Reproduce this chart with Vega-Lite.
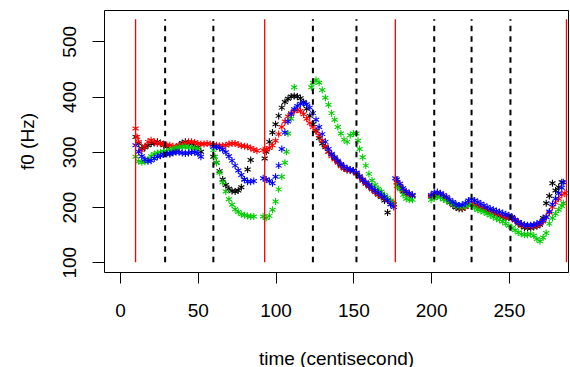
{
  "$schema": "https://vega.github.io/schema/vega-lite/v6.json",
  "width": 464,
  "height": 262,
  "autosize": {"type": "none"},
  "padding": {"left": 104, "top": 10, "right": 2, "bottom": 95},
  "background": "white",
  "config": {
    "view": {"stroke": "black", "strokeWidth": 1},
    "font": "Liberation Sans",
    "axis": {"grid": false, "domain": false, "tickColor": "black", "tickWidth": 1, "labelColor": "black", "titleColor": "black", "labelFont": "Liberation Sans", "titleFont": "Liberation Sans", "labelFontSize": 19, "titleFontSize": 19, "titleFontWeight": "normal"}
  },
  "datasets": {
    "f0": [
      {"t":10,"f":327,"s":"k"},{"t":12,"f":315,"s":"k"},{"t":14,"f":306,"s":"k"},{"t":16,"f":308,"s":"k"},{"t":18,"f":312,"s":"k"},{"t":20,"f":315,"s":"k"},{"t":22,"f":316,"s":"k"},{"t":24,"f":318,"s":"k"},{"t":26,"f":316,"s":"k"},{"t":28,"f":312,"s":"k"},{"t":30,"f":309,"s":"k"},{"t":32,"f":296,"s":"k"},{"t":34,"f":300,"s":"k"},{"t":36,"f":305,"s":"k"},{"t":38,"f":312,"s":"k"},{"t":40,"f":316,"s":"k"},{"t":42,"f":318,"s":"k"},{"t":44,"f":316,"s":"k"},{"t":46,"f":314,"s":"k"},{"t":48,"f":312,"s":"k"},{"t":50,"f":308,"s":"k"},{"t":52,"f":300,"s":"k"},
      {"t":60,"f":291,"s":"k"},{"t":62,"f":280,"s":"k"},{"t":64,"f":265,"s":"k"},{"t":66,"f":250,"s":"k"},{"t":68,"f":240,"s":"k"},{"t":70,"f":233,"s":"k"},{"t":72,"f":229,"s":"k"},{"t":74,"f":228,"s":"k"},{"t":76,"f":230,"s":"k"},{"t":78,"f":236,"s":"k"},{"t":80,"f":250,"s":"k"},{"t":82,"f":268,"s":"k"},{"t":84,"f":285,"s":"k"},
      {"t":93,"f":288,"s":"k"},{"t":94,"f":300,"s":"k"},{"t":96,"f":318,"s":"k"},{"t":98,"f":335,"s":"k"},{"t":100,"f":350,"s":"k"},{"t":102,"f":365,"s":"k"},{"t":104,"f":380,"s":"k"},{"t":106,"f":390,"s":"k"},{"t":108,"f":396,"s":"k"},{"t":110,"f":400,"s":"k"},{"t":112,"f":401,"s":"k"},{"t":114,"f":400,"s":"k"},{"t":116,"f":397,"s":"k"},{"t":118,"f":390,"s":"k"},{"t":120,"f":378,"s":"k"},{"t":122,"f":365,"s":"k"},{"t":124,"f":350,"s":"k"},{"t":126,"f":338,"s":"k"},{"t":128,"f":325,"s":"k"},{"t":130,"f":315,"s":"k"},{"t":132,"f":308,"s":"k"},{"t":134,"f":300,"s":"k"},{"t":136,"f":295,"s":"k"},{"t":138,"f":288,"s":"k"},{"t":140,"f":282,"s":"k"},{"t":142,"f":276,"s":"k"},{"t":144,"f":270,"s":"k"},{"t":146,"f":267,"s":"k"},{"t":148,"f":266,"s":"k"},{"t":150,"f":266,"s":"k"},{"t":152,"f":262,"s":"k"},{"t":154,"f":255,"s":"k"},{"t":156,"f":248,"s":"k"},{"t":158,"f":242,"s":"k"},{"t":160,"f":237,"s":"k"},{"t":162,"f":232,"s":"k"},{"t":164,"f":227,"s":"k"},{"t":166,"f":222,"s":"k"},{"t":168,"f":218,"s":"k"},{"t":170,"f":212,"s":"k"},{"t":172,"f":190,"s":"k"},{"t":174,"f":205,"s":"k"},{"t":176,"f":205,"s":"k"},
      {"t":178,"f":245,"s":"k"},{"t":180,"f":235,"s":"k"},{"t":182,"f":228,"s":"k"},{"t":184,"f":224,"s":"k"},{"t":186,"f":222,"s":"k"},{"t":188,"f":220,"s":"k"},
      {"t":200,"f":218,"s":"k"},{"t":202,"f":220,"s":"k"},{"t":204,"f":222,"s":"k"},{"t":206,"f":222,"s":"k"},{"t":208,"f":218,"s":"k"},{"t":210,"f":214,"s":"k"},{"t":212,"f":208,"s":"k"},{"t":214,"f":203,"s":"k"},{"t":216,"f":199,"s":"k"},{"t":218,"f":197,"s":"k"},{"t":220,"f":197,"s":"k"},{"t":222,"f":200,"s":"k"},{"t":224,"f":204,"s":"k"},{"t":226,"f":205,"s":"k"},{"t":228,"f":203,"s":"k"},{"t":230,"f":200,"s":"k"},{"t":232,"f":198,"s":"k"},{"t":234,"f":196,"s":"k"},{"t":236,"f":193,"s":"k"},{"t":238,"f":190,"s":"k"},{"t":240,"f":188,"s":"k"},{"t":242,"f":186,"s":"k"},{"t":244,"f":184,"s":"k"},{"t":246,"f":182,"s":"k"},{"t":248,"f":180,"s":"k"},{"t":250,"f":181,"s":"k"},{"t":252,"f":182,"s":"k"},{"t":254,"f":176,"s":"k"},{"t":256,"f":170,"s":"k"},{"t":258,"f":166,"s":"k"},{"t":260,"f":163,"s":"k"},{"t":262,"f":162,"s":"k"},{"t":264,"f":162,"s":"k"},{"t":266,"f":164,"s":"k"},{"t":268,"f":165,"s":"k"},{"t":270,"f":168,"s":"k"},{"t":272,"f":180,"s":"k"},{"t":274,"f":207,"s":"k"},{"t":276,"f":220,"s":"k"},{"t":278,"f":243,"s":"k"},{"t":280,"f":230,"s":"k"},{"t":282,"f":236,"s":"k"},{"t":284,"f":245,"s":"k"},

      {"t":10,"f":342,"s":"r"},{"t":11,"f":327,"s":"r"},{"t":12,"f":318,"s":"r"},{"t":14,"f":303,"s":"r"},{"t":16,"f":310,"s":"r"},{"t":18,"f":318,"s":"r"},{"t":20,"f":321,"s":"r"},{"t":22,"f":318,"s":"r"},{"t":24,"f":315,"s":"r"},{"t":26,"f":315,"s":"r"},{"t":28,"f":314,"s":"r"},{"t":30,"f":312,"s":"r"},{"t":32,"f":312,"s":"r"},{"t":34,"f":310,"s":"r"},{"t":36,"f":309,"s":"r"},{"t":38,"f":311,"s":"r"},{"t":40,"f":313,"s":"r"},{"t":42,"f":316,"s":"r"},{"t":44,"f":318,"s":"r"},{"t":46,"f":318,"s":"r"},{"t":48,"f":317,"s":"r"},{"t":50,"f":315,"s":"r"},{"t":52,"f":314,"s":"r"},{"t":54,"f":314,"s":"r"},{"t":56,"f":315,"s":"r"},{"t":58,"f":314,"s":"r"},{"t":60,"f":313,"s":"r"},{"t":62,"f":312,"s":"r"},{"t":64,"f":311,"s":"r"},{"t":66,"f":311,"s":"r"},{"t":68,"f":312,"s":"r"},{"t":70,"f":314,"s":"r"},{"t":72,"f":315,"s":"r"},{"t":74,"f":315,"s":"r"},{"t":76,"f":313,"s":"r"},{"t":78,"f":311,"s":"r"},{"t":80,"f":310,"s":"r"},{"t":82,"f":309,"s":"r"},{"t":84,"f":307,"s":"r"},{"t":86,"f":304,"s":"r"},{"t":88,"f":302,"s":"r"},
      {"t":92,"f":303,"s":"r"},{"t":94,"f":304,"s":"r"},{"t":96,"f":307,"s":"r"},{"t":98,"f":312,"s":"r"},{"t":100,"f":320,"s":"r"},{"t":102,"f":332,"s":"r"},{"t":104,"f":345,"s":"r"},{"t":106,"f":355,"s":"r"},{"t":108,"f":364,"s":"r"},{"t":110,"f":370,"s":"r"},{"t":112,"f":374,"s":"r"},{"t":114,"f":376,"s":"r"},{"t":116,"f":374,"s":"r"},{"t":118,"f":368,"s":"r"},{"t":120,"f":360,"s":"r"},{"t":122,"f":352,"s":"r"},{"t":124,"f":345,"s":"r"},{"t":126,"f":337,"s":"r"},{"t":128,"f":330,"s":"r"},{"t":130,"f":320,"s":"r"},{"t":132,"f":310,"s":"r"},{"t":134,"f":300,"s":"r"},{"t":136,"f":292,"s":"r"},{"t":138,"f":286,"s":"r"},{"t":140,"f":280,"s":"r"},{"t":142,"f":274,"s":"r"},{"t":144,"f":270,"s":"r"},{"t":146,"f":268,"s":"r"},{"t":148,"f":267,"s":"r"},{"t":150,"f":265,"s":"r"},{"t":152,"f":260,"s":"r"},{"t":154,"f":254,"s":"r"},{"t":156,"f":248,"s":"r"},{"t":158,"f":243,"s":"r"},{"t":160,"f":238,"s":"r"},{"t":162,"f":232,"s":"r"},{"t":164,"f":227,"s":"r"},{"t":166,"f":223,"s":"r"},{"t":168,"f":220,"s":"r"},{"t":170,"f":217,"s":"r"},{"t":172,"f":213,"s":"r"},{"t":174,"f":210,"s":"r"},{"t":176,"f":205,"s":"r"},
      {"t":178,"f":245,"s":"r"},{"t":180,"f":238,"s":"r"},{"t":182,"f":230,"s":"r"},{"t":184,"f":225,"s":"r"},{"t":186,"f":222,"s":"r"},{"t":188,"f":222,"s":"r"},
      {"t":200,"f":220,"s":"r"},{"t":202,"f":223,"s":"r"},{"t":204,"f":225,"s":"r"},{"t":206,"f":223,"s":"r"},{"t":208,"f":219,"s":"r"},{"t":210,"f":215,"s":"r"},{"t":212,"f":210,"s":"r"},{"t":214,"f":206,"s":"r"},{"t":216,"f":203,"s":"r"},{"t":218,"f":200,"s":"r"},{"t":220,"f":198,"s":"r"},{"t":222,"f":200,"s":"r"},{"t":224,"f":204,"s":"r"},{"t":226,"f":206,"s":"r"},{"t":228,"f":205,"s":"r"},{"t":230,"f":203,"s":"r"},{"t":232,"f":200,"s":"r"},{"t":234,"f":197,"s":"r"},{"t":236,"f":194,"s":"r"},{"t":238,"f":192,"s":"r"},{"t":240,"f":190,"s":"r"},{"t":242,"f":188,"s":"r"},{"t":244,"f":186,"s":"r"},{"t":246,"f":184,"s":"r"},{"t":248,"f":182,"s":"r"},{"t":250,"f":182,"s":"r"},{"t":252,"f":180,"s":"r"},{"t":254,"f":176,"s":"r"},{"t":256,"f":172,"s":"r"},{"t":258,"f":168,"s":"r"},{"t":260,"f":166,"s":"r"},{"t":262,"f":165,"s":"r"},{"t":264,"f":165,"s":"r"},{"t":266,"f":166,"s":"r"},{"t":268,"f":167,"s":"r"},{"t":270,"f":170,"s":"r"},{"t":272,"f":174,"s":"r"},{"t":274,"f":182,"s":"r"},{"t":276,"f":190,"s":"r"},{"t":278,"f":200,"s":"r"},{"t":280,"f":208,"s":"r"},{"t":282,"f":215,"s":"r"},{"t":284,"f":222,"s":"r"},{"t":286,"f":225,"s":"r"},

      {"t":10,"f":291,"s":"g"},{"t":12,"f":283,"s":"g"},{"t":14,"f":281,"s":"g"},{"t":16,"f":282,"s":"g"},{"t":18,"f":286,"s":"g"},{"t":20,"f":292,"s":"g"},{"t":22,"f":296,"s":"g"},{"t":24,"f":298,"s":"g"},{"t":26,"f":299,"s":"g"},{"t":28,"f":300,"s":"g"},{"t":30,"f":301,"s":"g"},{"t":32,"f":303,"s":"g"},{"t":34,"f":305,"s":"g"},{"t":36,"f":307,"s":"g"},{"t":38,"f":308,"s":"g"},{"t":40,"f":309,"s":"g"},{"t":42,"f":309,"s":"g"},{"t":44,"f":308,"s":"g"},{"t":46,"f":307,"s":"g"},{"t":48,"f":306,"s":"g"},{"t":50,"f":305,"s":"g"},
      {"t":60,"f":303,"s":"g"},{"t":61,"f":291,"s":"g"},{"t":62,"f":280,"s":"g"},{"t":64,"f":262,"s":"g"},{"t":66,"f":245,"s":"g"},{"t":68,"f":228,"s":"g"},{"t":70,"f":214,"s":"g"},{"t":72,"f":204,"s":"g"},{"t":74,"f":196,"s":"g"},{"t":76,"f":191,"s":"g"},{"t":78,"f":187,"s":"g"},{"t":80,"f":185,"s":"g"},{"t":82,"f":184,"s":"g"},{"t":84,"f":183,"s":"g"},{"t":86,"f":183,"s":"g"},
      {"t":92,"f":183,"s":"g"},{"t":94,"f":180,"s":"g"},{"t":96,"f":184,"s":"g"},{"t":98,"f":195,"s":"g"},{"t":100,"f":210,"s":"g"},{"t":102,"f":232,"s":"g"},{"t":104,"f":255,"s":"g"},{"t":106,"f":280,"s":"g"},{"t":107,"f":300,"s":"g"},{"t":108,"f":333,"s":"g"},{"t":110,"f":360,"s":"g"},{"t":112,"f":417,"s":"g"},
      {"t":123,"f":417,"s":"g"},{"t":124,"f":425,"s":"g"},{"t":126,"f":430,"s":"g"},{"t":128,"f":425,"s":"g"},{"t":130,"f":412,"s":"g"},{"t":132,"f":398,"s":"g"},{"t":134,"f":385,"s":"g"},{"t":136,"f":370,"s":"g"},{"t":138,"f":358,"s":"g"},{"t":140,"f":345,"s":"g"},{"t":142,"f":333,"s":"g"},{"t":144,"f":322,"s":"g"},{"t":146,"f":318,"s":"g"},{"t":148,"f":330,"s":"g"},{"t":150,"f":333,"s":"g"},{"t":152,"f":333,"s":"g"},{"t":153,"f":320,"s":"g"},{"t":154,"f":305,"s":"g"},{"t":156,"f":290,"s":"g"},{"t":158,"f":275,"s":"g"},{"t":160,"f":260,"s":"g"},{"t":162,"f":248,"s":"g"},{"t":164,"f":240,"s":"g"},{"t":166,"f":233,"s":"g"},{"t":168,"f":228,"s":"g"},{"t":170,"f":222,"s":"g"},{"t":172,"f":217,"s":"g"},{"t":174,"f":212,"s":"g"},{"t":176,"f":205,"s":"g"},
      {"t":178,"f":238,"s":"g"},{"t":180,"f":232,"s":"g"},{"t":182,"f":222,"s":"g"},{"t":184,"f":215,"s":"g"},{"t":186,"f":213,"s":"g"},{"t":188,"f":213,"s":"g"},
      {"t":200,"f":213,"s":"g"},{"t":202,"f":216,"s":"g"},{"t":204,"f":219,"s":"g"},{"t":206,"f":217,"s":"g"},{"t":208,"f":214,"s":"g"},{"t":210,"f":211,"s":"g"},{"t":212,"f":209,"s":"g"},{"t":214,"f":206,"s":"g"},{"t":216,"f":203,"s":"g"},{"t":218,"f":201,"s":"g"},{"t":220,"f":200,"s":"g"},{"t":222,"f":202,"s":"g"},{"t":224,"f":204,"s":"g"},{"t":226,"f":203,"s":"g"},{"t":228,"f":198,"s":"g"},{"t":230,"f":195,"s":"g"},{"t":232,"f":193,"s":"g"},{"t":234,"f":191,"s":"g"},{"t":236,"f":188,"s":"g"},{"t":238,"f":185,"s":"g"},{"t":240,"f":182,"s":"g"},{"t":242,"f":179,"s":"g"},{"t":244,"f":177,"s":"g"},{"t":246,"f":174,"s":"g"},{"t":248,"f":170,"s":"g"},{"t":250,"f":166,"s":"g"},{"t":252,"f":162,"s":"g"},{"t":254,"f":158,"s":"g"},{"t":256,"f":154,"s":"g"},{"t":258,"f":151,"s":"g"},{"t":260,"f":150,"s":"g"},{"t":262,"f":150,"s":"g"},{"t":264,"f":151,"s":"g"},{"t":266,"f":148,"s":"g"},{"t":268,"f":142,"s":"g"},{"t":270,"f":138,"s":"g"},{"t":272,"f":145,"s":"g"},{"t":274,"f":153,"s":"g"},{"t":276,"f":170,"s":"g"},{"t":278,"f":180,"s":"g"},{"t":280,"f":188,"s":"g"},{"t":282,"f":195,"s":"g"},{"t":284,"f":202,"s":"g"},{"t":285,"f":207,"s":"g"},

      {"t":10,"f":312,"s":"b"},{"t":12,"f":300,"s":"b"},{"t":14,"f":292,"s":"b"},{"t":16,"f":286,"s":"b"},{"t":18,"f":283,"s":"b"},{"t":20,"f":284,"s":"b"},{"t":22,"f":288,"s":"b"},{"t":24,"f":291,"s":"b"},{"t":26,"f":293,"s":"b"},{"t":28,"f":295,"s":"b"},{"t":30,"f":296,"s":"b"},{"t":32,"f":297,"s":"b"},{"t":34,"f":298,"s":"b"},{"t":36,"f":299,"s":"b"},{"t":38,"f":299,"s":"b"},{"t":40,"f":298,"s":"b"},{"t":42,"f":297,"s":"b"},{"t":44,"f":298,"s":"b"},{"t":46,"f":299,"s":"b"},{"t":48,"f":299,"s":"b"},{"t":50,"f":297,"s":"b"},{"t":52,"f":291,"s":"b"},
      {"t":60,"f":309,"s":"b"},{"t":62,"f":309,"s":"b"},{"t":64,"f":307,"s":"b"},{"t":66,"f":304,"s":"b"},{"t":68,"f":299,"s":"b"},{"t":70,"f":292,"s":"b"},{"t":72,"f":284,"s":"b"},{"t":74,"f":275,"s":"b"},{"t":76,"f":266,"s":"b"},{"t":78,"f":258,"s":"b"},{"t":80,"f":250,"s":"b"},{"t":82,"f":246,"s":"b"},{"t":84,"f":246,"s":"b"},{"t":86,"f":247,"s":"b"},
      {"t":92,"f":252,"s":"b"},{"t":94,"f":250,"s":"b"},{"t":96,"f":247,"s":"b"},{"t":98,"f":243,"s":"b"},{"t":100,"f":255,"s":"b"},{"t":102,"f":275,"s":"b"},{"t":104,"f":305,"s":"b"},{"t":106,"f":335,"s":"b"},{"t":108,"f":355,"s":"b"},{"t":110,"f":368,"s":"b"},{"t":112,"f":377,"s":"b"},{"t":114,"f":383,"s":"b"},{"t":116,"f":387,"s":"b"},{"t":118,"f":388,"s":"b"},{"t":120,"f":386,"s":"b"},{"t":122,"f":380,"s":"b"},{"t":124,"f":370,"s":"b"},{"t":126,"f":358,"s":"b"},{"t":128,"f":345,"s":"b"},{"t":130,"f":332,"s":"b"},{"t":132,"f":318,"s":"b"},{"t":134,"f":305,"s":"b"},{"t":136,"f":296,"s":"b"},{"t":138,"f":290,"s":"b"},{"t":140,"f":284,"s":"b"},{"t":142,"f":278,"s":"b"},{"t":144,"f":273,"s":"b"},{"t":146,"f":270,"s":"b"},{"t":148,"f":268,"s":"b"},{"t":150,"f":266,"s":"b"},{"t":152,"f":262,"s":"b"},{"t":154,"f":256,"s":"b"},{"t":156,"f":250,"s":"b"},{"t":158,"f":245,"s":"b"},{"t":160,"f":240,"s":"b"},{"t":162,"f":235,"s":"b"},{"t":164,"f":230,"s":"b"},{"t":166,"f":226,"s":"b"},{"t":168,"f":222,"s":"b"},{"t":170,"f":218,"s":"b"},{"t":172,"f":212,"s":"b"},{"t":174,"f":205,"s":"b"},{"t":176,"f":200,"s":"b"},
      {"t":177,"f":252,"s":"b"},{"t":178,"f":250,"s":"b"},{"t":180,"f":242,"s":"b"},{"t":182,"f":234,"s":"b"},{"t":184,"f":228,"s":"b"},{"t":186,"f":225,"s":"b"},{"t":188,"f":222,"s":"b"},
      {"t":200,"f":222,"s":"b"},{"t":202,"f":226,"s":"b"},{"t":204,"f":227,"s":"b"},{"t":206,"f":225,"s":"b"},{"t":208,"f":222,"s":"b"},{"t":210,"f":218,"s":"b"},{"t":212,"f":213,"s":"b"},{"t":214,"f":209,"s":"b"},{"t":216,"f":205,"s":"b"},{"t":218,"f":203,"s":"b"},{"t":220,"f":204,"s":"b"},{"t":222,"f":207,"s":"b"},{"t":224,"f":212,"s":"b"},{"t":226,"f":214,"s":"b"},{"t":228,"f":212,"s":"b"},{"t":230,"f":209,"s":"b"},{"t":232,"f":206,"s":"b"},{"t":234,"f":203,"s":"b"},{"t":236,"f":200,"s":"b"},{"t":238,"f":197,"s":"b"},{"t":240,"f":195,"s":"b"},{"t":242,"f":193,"s":"b"},{"t":244,"f":191,"s":"b"},{"t":246,"f":189,"s":"b"},{"t":248,"f":187,"s":"b"},{"t":250,"f":185,"s":"b"},{"t":252,"f":181,"s":"b"},{"t":254,"f":177,"s":"b"},{"t":256,"f":173,"s":"b"},{"t":258,"f":170,"s":"b"},{"t":260,"f":168,"s":"b"},{"t":262,"f":167,"s":"b"},{"t":264,"f":167,"s":"b"},{"t":266,"f":168,"s":"b"},{"t":268,"f":170,"s":"b"},{"t":270,"f":172,"s":"b"},{"t":272,"f":176,"s":"b"},{"t":274,"f":182,"s":"b"},{"t":276,"f":192,"s":"b"},{"t":278,"f":205,"s":"b"},{"t":280,"f":215,"s":"b"},{"t":282,"f":225,"s":"b"},{"t":284,"f":235,"s":"b"},{"t":285,"f":245,"s":"b"}
    ],
    "bounds": [
      {"x":10,"kind":"major"},{"x":93,"kind":"major"},{"x":177,"kind":"major"},{"x":287,"kind":"major"},
      {"x":29,"kind":"minor"},{"x":60,"kind":"minor"},{"x":124,"kind":"minor"},{"x":152,"kind":"minor"},{"x":202,"kind":"minor"},{"x":226,"kind":"minor"},{"x":251,"kind":"minor"}
    ]
  },
  "layer": [
    {
      "data": {"name": "f0"},
      "mark": {"type": "point", "shape": "M0,-1L0,1M-0.87,-0.5L0.87,0.5M-0.87,0.5L0.87,-0.5", "filled": false, "size": 49, "strokeWidth": 1.1, "opacity": 1},
      "encoding": {
        "x": {"field": "t", "type": "quantitative", "scale": {"domain": [-10.3, 288], "nice": false, "zero": false},
              "axis": {"values": [0, 50, 100, 150, 200, 250], "tickSize": 11, "labelPadding": 18, "labelBaseline": "top", "labelFlush": false, "labelOverlap": false, "title": "time (centisecond)", "titleX": 232, "titleY": 92, "titleBaseline": "alphabetic", "titleAlign": "center", "titleAnchor": null}},
        "y": {"field": "f", "type": "quantitative", "scale": {"domain": [82.4, 556.7], "nice": false, "zero": false},
              "axis": {"values": [100, 200, 300, 400, 500], "tickSize": 12, "labelAngle": -90, "labelAlign": "center", "labelBaseline": "alphabetic", "labelPadding": 17, "labelFlush": false, "labelOverlap": false, "title": "f0 (Hz)", "titleAngle": -90, "titleX": -71, "titleY": 131, "titleBaseline": "alphabetic", "titleAlign": "center", "titleAnchor": null}},
        "color": {"field": "s", "type": "nominal", "scale": {"domain": ["k", "r", "g", "b"], "range": ["#000000", "#FF0000", "#00CD00", "#0000FF"]}, "legend": null}
      }
    },
    {
      "data": {"name": "bounds"},
      "transform": [{"filter": "datum.kind === 'major'"}],
      "mark": {"type": "rule", "color": "#FF0000", "strokeWidth": 1.3},
      "encoding": {"x": {"field": "x", "type": "quantitative"}, "y": {"datum": 100}, "y2": {"datum": 540}}
    },
    {
      "data": {"name": "bounds"},
      "transform": [{"filter": "datum.kind === 'minor'"}],
      "mark": {"type": "rule", "color": "#000000", "strokeWidth": 2, "strokeDash": [5.5, 5]},
      "encoding": {"x": {"field": "x", "type": "quantitative"}, "y": {"datum": 100}, "y2": {"datum": 540}}
    }
  ]
}
